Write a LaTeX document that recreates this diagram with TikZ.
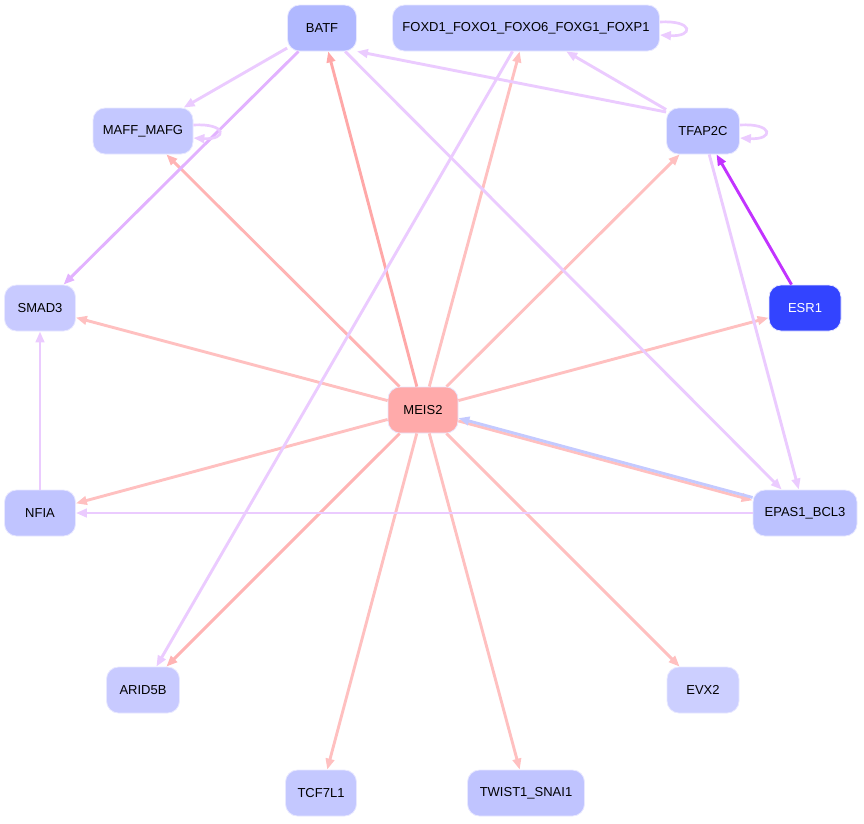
\documentclass[tikz,border=0pt]{standalone}
\usepackage{fontspec}
\setmainfont{Liberation Sans}
\usetikzlibrary{arrows.meta}

% node fills
\definecolor{fBATF}{HTML}{B0B8FF}
\definecolor{fFOX}{HTML}{BCC2FF}
\definecolor{fMAF}{HTML}{C4C8FF}
\definecolor{fTFAP}{HTML}{B8BEFF}
\definecolor{fSMAD}{HTML}{C8CAFF}
\definecolor{fESR}{HTML}{3344FF}
\definecolor{fMEIS}{HTML}{FFAAAA}
\definecolor{fNFIA}{HTML}{C0C4FF}
\definecolor{fEPAS}{HTML}{BCC2FF}
\definecolor{fARID}{HTML}{C8CAFF}
\definecolor{fEVX}{HTML}{CCCFFF}
\definecolor{fTCF}{HTML}{C4C8FF}
\definecolor{fTWIST}{HTML}{C0C4FF}
\definecolor{nodeline}{HTML}{E8E8FF}
% edge colours
\definecolor{ePink}{HTML}{FFC0C0}
\definecolor{ePinkD}{HTML}{FFA8A8}
\definecolor{ePinkM}{HTML}{FFB4B4}
\definecolor{eLilac}{HTML}{EBCBFF}
\definecolor{eLilacD}{HTML}{E2B2FF}
\definecolor{eViolet}{HTML}{C233FF}
\definecolor{eBlue}{HTML}{C4CAFF}

\tikzset{
  gene/.style={draw=nodeline, line width=0.8pt, rounded corners=12pt,
    minimum height=46pt, inner sep=0pt, align=center,
    font=\fontsize{13}{15}\selectfont},
  link/.style={line width=2.9pt, -{Triangle[length=11pt,width=8.5pt]}},
  selfloop/.style={link, line width=2.7pt}
}

\begin{document}
\begin{tikzpicture}[x=1pt,y=-1pt]
\useasboundingbox (0,0) rectangle (864,823);

% genes
\node[gene, fill=fBATF, minimum width=69pt]  (BATF)  at (322,28)  {BATF};
\node[gene, fill=fFOX,  minimum width=267pt] (FOX)   at (526,28)  {FOXD1\_FOXO1\_FOXO6\_FOXG1\_FOXP1};
\node[gene, fill=fMAF,  minimum width=100pt] (MAF)   at (143,131) {MAFF\_MAFG};
\node[gene, fill=fTFAP, minimum width=73pt]  (TFAP)  at (703,131) {TFAP2C};
\node[gene, fill=fSMAD, minimum width=71pt]  (SMAD)  at (40,308)  {SMAD3};
\node[gene, fill=fESR,  minimum width=72pt, text=white] (ESR) at (805,308) {ESR1};
\node[gene, fill=fMEIS, minimum width=70pt]  (MEIS)  at (423,410) {MEIS2};
\node[gene, fill=fNFIA, minimum width=71pt]  (NFIA)  at (40,513)  {NFIA};
\node[gene, fill=fEPAS, minimum width=104pt] (EPAS)  at (805,513) {EPAS1\_BCL3};
\node[gene, fill=fARID, minimum width=73pt]  (ARID)  at (143,690) {ARID5B};
\node[gene, fill=fEVX,  minimum width=72pt]  (EVX)   at (703,690) {EVX2};
\node[gene, fill=fTCF,  minimum width=71pt]  (TCF)   at (321,793) {TCF7L1};
\node[gene, fill=fTWIST,minimum width=117pt] (TWIST) at (526,793) {TWIST1\_SNAI1};

% MEIS2 targets
\draw[link, ePinkD] (MEIS) -- (BATF);
\draw[link, ePink]  (MEIS) -- (FOX);
\draw[link, ePinkM] (MEIS) -- (MAF);
\draw[link, ePink]  (MEIS) -- (TFAP);
\draw[link, ePink]  (MEIS) -- (SMAD);
\draw[link, ePink]  (MEIS) -- (ESR);
\draw[link, ePink]  (MEIS) -- (NFIA);
\draw[link, ePinkM] (MEIS) -- (ARID);
\draw[link, ePink]  (MEIS) -- (EVX);
\draw[link, ePink]  (MEIS) -- (TCF);
\draw[link, ePink]  (MEIS) -- (TWIST);
\draw[link, ePink, transform canvas={yshift=-1.4pt}] (MEIS) -- (EPAS);
\draw[link, eBlue,  transform canvas={yshift=1.4pt}]  (EPAS) -- (MEIS);

% other regulators
\draw[link, eLilac]  (BATF) -- (MAF);
\draw[link, eLilacD] (BATF) -- (SMAD);
\draw[link, eLilac]  (BATF) -- (EPAS);
\draw[link, eLilac]  ([yshift=19pt]TFAP.west) -- (BATF.south east);
\draw[link, eLilac]  (TFAP) -- (FOX);
\draw[link, eLilac]  (TFAP) -- (EPAS);
\draw[link, eLilac]  (FOX)  -- (ARID);
\draw[link, eViolet] (ESR)  -- (TFAP);
\draw[link, eLilac]  (NFIA) -- (SMAD);
\draw[link, eLilac]  (EPAS) -- (NFIA);

% self regulation
\draw[selfloop, eLilac] ([yshift=6pt]FOX.east) .. controls +(34pt,2pt) and +(34pt,-2pt) .. ([yshift=-7pt]FOX.east);
\draw[selfloop, eLilac] ([yshift=6pt]MAF.east) .. controls +(34pt,2pt) and +(34pt,-2pt) .. ([yshift=-7pt]MAF.east);
\draw[selfloop, eLilac] ([yshift=6pt]TFAP.east) .. controls +(34pt,2pt) and +(34pt,-2pt) .. ([yshift=-7pt]TFAP.east);
\end{tikzpicture}
\end{document}
